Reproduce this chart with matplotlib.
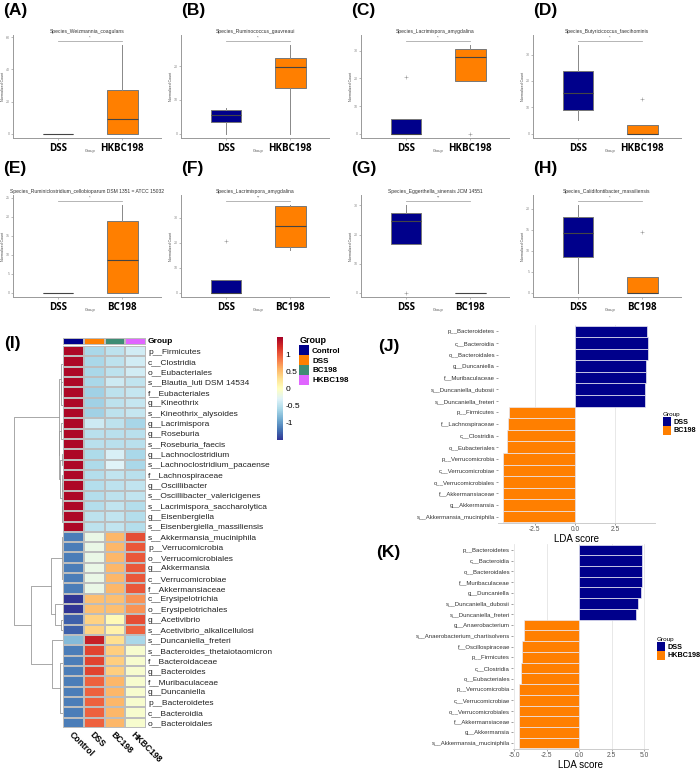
import numpy as np
import matplotlib
matplotlib.use("Agg")
import matplotlib.pyplot as plt
from matplotlib.patches import Patch
from matplotlib.colors import ListedColormap
from matplotlib.ticker import MultipleLocator

W, H = 700, 769
plt.rcParams['font.family'] = ['Liberation Sans', 'DejaVu Sans']

NAVY = '#00008B'
ORANGE = '#FF7F00'
TEAL = '#3E8C74'
VIOLET = '#E066FF'

# ---------------- (A)-(H) boxplots ----------------
box_titles = ["Species_Weizmannia_coagulans", "Species_Ruminococcus_gauvreaui",
              "Species_Lacrimispora_amygdalina", "Species_Butyricicoccus_faecihominis",
              "Species_Ruminiclostridium_cellobioparum DSM 1351 = ATCC 15032",
              "Species_Lacrimispora_amygdalina", "Species_Eggerthella_sinensis JCM 14551",
              "Species_Calidifontibacter_massiliensis"]
box_groups = [["DSS", "HKBC198"]] * 4 + [["DSS", "BC198"]] * 4
box_q1 = [[0, 0], [3.4, 13.4], [0, 19.0], [8.9, 0], [0, 0], [0, 18.2], [16.8, 0], [8.5, 0]]
box_med = [[0, 9.4], [5.7, 19.6], [0, 27.6], [15.6, 0], [0, 8.7], [0, 26.6], [24.5, 0], [14.3, 0]]
box_q3 = [[0, 27.5], [6.9, 22.3], [5.2, 30.5], [23.8, 3.2], [0, 18.75], [5.3, 34.5], [27.4, 0], [18.0, 3.8]]
box_lo = [[0, 0], [0, 0], [0, 19.0], [5.1, 0], [0, 0], [0, 17.1], [16.8, 0], [0, 0]]
box_hi = [[0, 55.2], [7.7, 26.2], [5.2, 32.0], [33.5, 3.2], [0, 23.0], [5.3, 34.9], [30.0, 0], [20.8, 3.8]]
box_fliers = [[[], []], [[], []], [[20.6], [0]], [[], [13.0]],
              [[], []], [[20.7], []], [[0], []], [[], [14.5]]]
box_sig = ["*", "*", "*", "*", "*", "**", "**", "*"]
box_bracket = [57.7, 27.4, 33.5, 35.1, 24.1, 36.6, 31.5, 21.8]
box_step = [20, 10, 10, 10, 5, 10, 10, 5]
box_letters = ["(A)", "(B)", "(C)", "(D)", "(E)", "(F)", "(G)", "(H)"]

# ---------------- (I) heatmap ----------------
heat_rows = ["p__Firmicutes", "c__Clostridia", "o__Eubacteriales", "s__Blautia_luti DSM 14534",
             "f__Eubacteriales", "g__Kineothrix", "s__Kineothrix_alysoides", "g__Lacrimispora",
             "g__Roseburia", "s__Roseburia_faecis", "g__Lachnoclostridium",
             "s__Lachnoclostridium_pacaense", "f__Lachnospiraceae", "g__Oscillibacter",
             "s__Oscillibacter_valericigenes", "s__Lacrimispora_saccharolytica",
             "g__Eisenbergiella", "s__Eisenbergiella_massiliensis",
             "s__Akkermansia_muciniphila", "p__Verrucomicrobia", "o__Verrucomicrobiales",
             "g__Akkermansia", "c__Verrucomicrobiae", "f__Akkermansiaceae",
             "c__Erysipelotrichia", "o__Erysipelotrichales", "g__Acetivibrio",
             "s__Acetivibrio_alkalicellulosi", "s__Duncaniella_freteri",
             "s__Bacteroides_thetaiotaomicron", "f__Bacteroidaceae", "g__Bacteroides",
             "f__Muribaculaceae", "g__Duncaniella", "p__Bacteroidetes", "c__Bacteroidia",
             "o__Bacteroidales"]
heat_cols = ["Control", "DSS", "BC198", "HKBC198"]
heat_control = [1.45] * 18 + [-1.15] * 6 + [-1.5, -1.5, -1.3, -1.3, -0.8] + [-1.15] * 8
heat_dss = [-0.6, -0.6, -0.6, -0.6, -0.65, -0.65, -0.65, -0.4, -0.52, -0.52, -0.58, -0.58,
            -0.55, -0.55, -0.55, -0.55, -0.5, -0.5,
            -0.2, -0.2, -0.2, -0.2, -0.2, -0.2, 0.5, 0.5, 0.38, 0.38, 1.3,
            1.1, 1.1, 1.1, 0.95, 0.95, 0.95, 0.95, 0.95]
heat_bc198 = [-0.5, -0.5, -0.5, -0.4, -0.5, -0.5, -0.5, -0.5, -0.52, -0.52, -0.35, -0.3,
              -0.48, -0.5, -0.5, -0.48, -0.48, -0.48,
              0.55, 0.55, 0.55, 0.55, 0.55, 0.55, 0.5, 0.5, 0.05, 0.12, 0.3,
              0.4, 0.4, 0.4, 0.55, 0.55, 0.55, 0.55, 0.55]
heat_hkbc198 = [-0.38, -0.38, -0.38, -0.48, -0.45, -0.45, -0.45, -0.62, -0.52, -0.52, -0.6, -0.6,
                -0.52, -0.47, -0.47, -0.55, -0.55, -0.55,
                1.05, 1.0, 1.0, 1.0, 1.0, 1.0, 0.72, 0.72, 1.05, 0.95, -0.6,
                -0.08, -0.08, -0.08, -0.08, -0.08, -0.08, -0.08, -0.08]
group_colors = [NAVY, ORANGE, TEAL, VIOLET]

# ---------------- (J), (K) LDA ----------------
lda_j_labels = ["p__Bacteroidetes", "c__Bacteroidia", "o__Bacteroidales", "g__Duncaniella",
                "f__Muribaculaceae", "s__Duncaniella_dubosii", "s__Duncaniella_freteri",
                "p__Firmicutes", "f__Lachnospiraceae", "c__Clostridia", "o__Eubacteriales",
                "p__Verrucomicrobia", "c__Verrucomicrobiae", "o__Verrucomicrobiales",
                "f__Akkermansiaceae", "g__Akkermansia", "s__Akkermansia_muciniphila"]
lda_j_scores = [4.5, 4.52, 4.52, 4.42, 4.40, 4.35, 4.33,
                -4.10, -4.19, -4.25, -4.25, -4.44, -4.44, -4.44, -4.44, -4.44, -4.44]
lda_k_labels = ["p__Bacteroidetes", "c__Bacteroidia", "o__Bacteroidales", "f__Muribaculaceae",
                "g__Duncaniella", "s__Duncaniella_dubosii", "s__Duncaniella_freteri",
                "g__Anaerobacterium", "s__Anaerobacterium_chartisolvens", "f__Oscillospiraceae",
                "p__Firmicutes", "c__Clostridia", "o__Eubacteriales", "p__Verrucomicrobia",
                "c__Verrucomicrobiae", "o__Verrucomicrobiales", "f__Akkermansiaceae",
                "g__Akkermansia", "s__Akkermansia_muciniphila"]
lda_k_scores = [4.87, 4.87, 4.87, 4.80, 4.74, 4.5, 4.4,
                -4.28, -4.28, -4.41, -4.41, -4.46, -4.46, -4.64, -4.64, -4.64, -4.64, -4.64, -4.64]


def box(x0, y0, x1, y1):
    return [x0 / W, 1 - y1 / H, (x1 - x0) / W, (y1 - y0) / H]


fig = plt.figure(figsize=(W / 100, H / 100), dpi=100)

# ---- boxplots ----
lefts = [13, 181, 361, 533]
rows_y = [(35, 138), (195, 297)]
label_y = [11, 169]
for p in range(8):
    r, c = divmod(p, 4)
    ax = fig.add_axes(box(lefts[c], rows_y[r][0], lefts[c] + 148, rows_y[r][1]))
    stats = []
    for g in range(2):
        stats.append(dict(med=box_med[p][g], q1=box_q1[p][g], q3=box_q3[p][g],
                          whislo=box_lo[p][g], whishi=box_hi[p][g],
                          fliers=box_fliers[p][g], label=box_groups[p][g]))
    bp = ax.bxp(stats, positions=[1, 2], widths=0.47, patch_artist=True, showcaps=False,
                boxprops=dict(edgecolor='#777777', linewidth=0.7),
                medianprops=dict(color='#444444', linewidth=0.8),
                whiskerprops=dict(color='#888888', linewidth=0.7),
                flierprops=dict(marker='+', markersize=2.5, markeredgecolor='#999999',
                                markeredgewidth=0.4))
    for patch, col in zip(bp['boxes'], [NAVY, ORANGE]):
        patch.set_facecolor(col)
    top = box_bracket[p] * 1.065
    ax.set_ylim(-0.045 * box_bracket[p], top)
    ax.set_xlim(0.3, 2.6)
    ax.plot([1, 2], [box_bracket[p]] * 2, color='#aaaaaa', lw=0.6)
    ax.text(1.5, box_bracket[p] + 0.012 * top, box_sig[p], ha='center', va='bottom',
            fontsize=3, color='#555555')
    ax.set_title(box_titles[p], fontsize=3.6, pad=1.5, color='#333333')
    ax.yaxis.set_major_locator(MultipleLocator(box_step[p]))
    ax.tick_params(axis='y', labelsize=2.6, length=1.5, width=0.4, colors='#888888', pad=0.8)
    ax.tick_params(axis='x', length=1.5, width=0.4, color='#888888', pad=2)
    for t in ax.get_xticklabels():
        t.set_fontsize(7)
        t.set_fontweight('bold')
        t.set_family(['Open Sans', 'DejaVu Sans'])
    ax.set_ylabel("Normalized Count", fontsize=2.6, labelpad=0.8, color='#444444')
    ax.text(1.5, -0.125, "Group", transform=ax.get_xaxis_transform(), fontsize=2.8,
            ha='center', va='center', color='#444444')
    for s in ['top', 'right']:
        ax.spines[s].set_visible(False)
    for s in ['left', 'bottom']:
        ax.spines[s].set_color('#999999')
        ax.spines[s].set_linewidth(0.7)
    fig.text((lefts[c] - 10 if c in (0, 2) else lefts[c]) / W, 1 - label_y[r] / H,
             box_letters[p], fontsize=12.5, fontweight='bold', va='center', ha='left')

# ---- heatmap (I) ----
mat = np.column_stack([heat_control, heat_dss, heat_bc198, heat_hkbc198])
n = len(heat_rows)
ax_h = fig.add_axes(box(63, 346, 146, 728))
ax_h.pcolormesh(mat, cmap='RdYlBu_r', vmin=-1.5, vmax=1.5, edgecolors='#bdbdbd',
                linewidth=0.35)
ax_h.set_ylim(n, 0)
ax_h.set_xlim(0, 4)
ax_h.yaxis.tick_right()
ax_h.set_yticks(np.arange(n) + 0.5)
ax_h.set_yticklabels(heat_rows, fontsize=6, color='#222222')
ax_h.set_xticks(np.arange(4) + 0.5)
ax_h.set_xticklabels(heat_cols, rotation=-45, ha='left', rotation_mode='anchor',
                     fontsize=6.2, fontweight='bold')
ax_h.tick_params(length=0, pad=1.5)
for s in ax_h.spines.values():
    s.set_visible(False)

ax_a = fig.add_axes(box(63, 338, 146, 345))
ax_a.pcolormesh(np.arange(4).reshape(1, 4), cmap=ListedColormap(group_colors),
                vmin=-0.5, vmax=3.5, edgecolors='#bdbdbd', linewidth=0.35)
ax_a.set_xticks([])
ax_a.set_yticks([])
for s in ax_a.spines.values():
    s.set_visible(False)
ax_a.text(4.1, 0.5, "Group", fontsize=6, va='center', ha='left', fontweight='bold')

# dendrogram: complete linkage, merging neighbouring clusters in row order
clusters = [([i], i + 0.5, 0.0) for i in range(n)]
links = []
while len(clusters) > 1:
    best = None
    for k in range(len(clusters) - 1):
        a, b = clusters[k][0], clusters[k + 1][0]
        d = max(np.linalg.norm(mat[i] - mat[j]) for i in a for j in b)
        if best is None or d < best[0]:
            best = (d, k)
    d, k = best
    (ma, ya, ha), (mb, yb, hb) = clusters[k], clusters[k + 1]
    h = max(d, ha, hb)
    links.append((ya, ha, yb, hb, h))
    clusters[k:k + 2] = [(ma + mb, (ya + yb) / 2, h)]

ax_d = fig.add_axes(box(14, 346, 63, 728))
for ya, ha, yb, hb, h in links:
    ax_d.plot([ha, h, h, hb], [ya, ya, yb, yb], color='#9a9a9a', lw=0.6)
ax_d.set_ylim(n, 0)
ax_d.set_xlim(clusters[0][2], 0)
ax_d.axis('off')

ax_cb = fig.add_axes(box(277, 337, 283, 440))
cb = fig.colorbar(ax_h.collections[0], cax=ax_cb)
cb.set_ticks([-1, -0.5, 0, 0.5, 1])
cb.set_ticklabels(["-1", "-0.5", "0", "0.5", "1"])
cb.outline.set_visible(False)
ax_cb.tick_params(labelsize=6, length=0, pad=2)

handles = [Patch(facecolor=c) for c in group_colors]
fig.legend(handles, heat_cols, title="Group", loc='upper left',
           bbox_to_anchor=(296 / W, 1 - 333 / H), frameon=False,
           prop=dict(size=5.8, weight='bold'), title_fontproperties=dict(size=6.5, weight='bold'),
           handlelength=1.2, handleheight=1.5, labelspacing=0.0, handletextpad=0.4,
           alignment='left', borderaxespad=0)
fig.text(4 / W, 1 - 344 / H, "(I)", fontsize=12.5, fontweight='bold', va='center')


# ---- LDA panels ----
def lda_panel(rect, labels, scores, xlim, ticks, legend_name, legend_xy):
    ax = fig.add_axes(box(*rect))
    y = np.arange(len(labels))
    cols = [NAVY if s > 0 else ORANGE for s in scores]
    ax.barh(y, scores, height=1.0, color=cols, edgecolor='#e8e8f4', linewidth=0.5, zorder=2)
    ax.set_ylim(len(labels) - 0.45, -0.55)
    ax.set_xlim(*xlim)
    ax.set_xticks(ticks)
    ax.set_xticklabels([f"{t:.1f}" for t in ticks])
    ax.set_yticks(y)
    ax.set_yticklabels(labels, fontsize=4.3, color='#333333')
    ax.tick_params(axis='y', length=1.2, width=0.4, color='#555555', pad=1)
    ax.tick_params(axis='x', labelsize=4.8, length=1.2, width=0.4, colors='#555555', pad=1)
    ax.grid(axis='x', color='#e4e4e4', lw=0.6, zorder=0)
    ax.set_axisbelow(True)
    ax.set_xlabel("LDA score", fontsize=7, labelpad=0.5)
    for s in ['top', 'right', 'left']:
        ax.spines[s].set_visible(False)
    ax.spines['bottom'].set_color('#cccccc')
    ax.spines['bottom'].set_linewidth(0.7)
    fig.legend([Patch(facecolor=NAVY), Patch(facecolor=ORANGE)], ["DSS", legend_name],
               title="Group", loc='upper left', bbox_to_anchor=(legend_xy[0] / W, 1 - legend_xy[1] / H),
               frameon=False, prop=dict(size=5.2, weight='bold'),
               title_fontproperties=dict(size=4.6), handlelength=1.1, handleheight=1.5,
               labelspacing=0.0, handletextpad=0.3, alignment='left', borderaxespad=0)


lda_panel((498, 325, 655, 523), lda_j_labels, lda_j_scores, (-4.78, 4.97), [-2.5, 0.0, 2.5],
          "BC198", (660, 409))
lda_panel((513, 544, 648, 749), lda_k_labels, lda_k_scores, (-5.1, 5.3),
          [-5.0, -2.5, 0.0, 2.5, 5.0], "HKBC198", (654, 634))
fig.text(378 / W, 1 - 347 / H, "(J)", fontsize=12.5, fontweight='bold', va='center')
fig.text(376 / W, 1 - 552 / H, "(K)", fontsize=12.5, fontweight='bold', va='center')

fig.savefig("out.png", dpi=100)
